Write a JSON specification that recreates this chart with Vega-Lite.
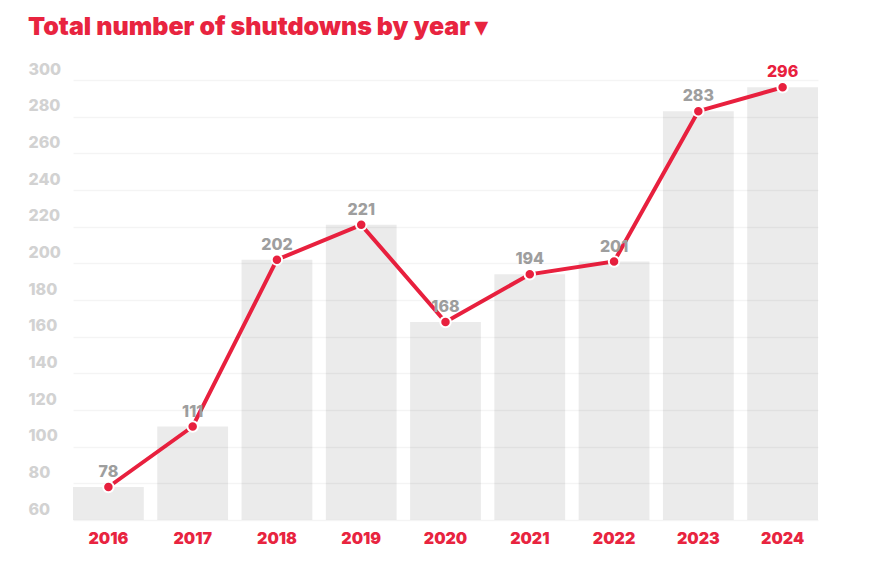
{
  "$schema": "https://vega.github.io/schema/vega-lite/v6.json",
  "autosize": "none",
  "width": 790,
  "height": 440,
  "padding": {"left": 28, "top": 80, "right": 78, "bottom": 53},
  "background": "white",
  "config": {
    "view": {"stroke": null},
    "font": "Inter"
  },
  "title": {
    "text": "Total number of shutdowns by year ▾",
    "anchor": "start",
    "frame": "group",
    "font": "Inter",
    "fontSize": 25,
    "fontWeight": 900,
    "color": "#e8243f",
    "offset": 21
  },
  "data": {
    "values": [
      {"year": "2016", "shutdowns": 78},
      {"year": "2017", "shutdowns": 111},
      {"year": "2018", "shutdowns": 202},
      {"year": "2019", "shutdowns": 221},
      {"year": "2020", "shutdowns": 168},
      {"year": "2021", "shutdowns": 194},
      {"year": "2022", "shutdowns": 201},
      {"year": "2023", "shutdowns": 283},
      {"year": "2024", "shutdowns": 296}
    ]
  },
  "encoding": {
    "x": {
      "field": "year",
      "type": "ordinal",
      "scale": {"range": [45, 790], "paddingInner": 0.16, "paddingOuter": 0},
      "axis": {
        "title": null,
        "domain": false,
        "ticks": false,
        "labelAngle": 0,
        "labelPadding": 10,
        "labelFont": "Inter",
        "labelFontSize": 16,
        "labelFontWeight": 900,
        "labelColor": "#e8243f"
      }
    },
    "y": {
      "field": "shutdowns",
      "type": "quantitative",
      "scale": {"domain": [60, 300], "nice": false, "zero": false},
      "axis": {
        "title": null,
        "domain": false,
        "ticks": false,
        "tickSize": 0,
        "values": [60, 80, 100, 120, 140, 160, 180, 200, 220, 240, 260, 280, 300],
        "labelAlign": "left",
        "labelBaseline": "middle",
        "labelPadding": 0,
        "labelOffset": -11,
        "labelFont": "Inter",
        "labelFontSize": 16,
        "labelFontWeight": 800,
        "labelColor": "#d2d2d2",
        "grid": true,
        "gridColor": "#000000",
        "gridOpacity": 0.045,
        "gridWidth": 1.5,
        "zindex": 1
      }
    }
  },
  "layer": [
    {
      "mark": {"type": "bar", "color": "#ebebeb"},
      "encoding": {"y2": {"datum": 60}}
    },
    {
      "mark": {"type": "line", "color": "#e8203e", "strokeWidth": 4}
    },
    {
      "mark": {"type": "point", "filled": true, "fill": "#e8203e", "stroke": "white", "strokeWidth": 2, "size": 110, "opacity": 1}
    },
    {
      "mark": {"type": "text", "dy": -15, "font": "Inter", "fontSize": 16, "fontWeight": 800},
      "encoding": {
        "text": {"field": "shutdowns", "type": "quantitative"},
        "color": {
          "condition": {"test": "datum.year === '2024'", "value": "#e8203e"},
          "value": "#9e9e9e"
        }
      }
    }
  ]
}
